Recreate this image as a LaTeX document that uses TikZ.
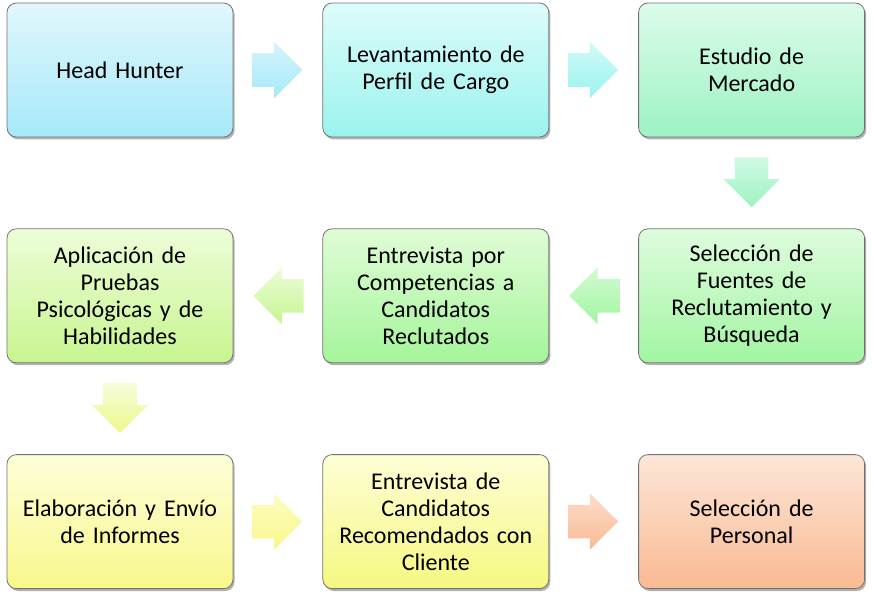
\documentclass[tikz,border=0pt]{standalone}
\usepackage{fontspec}
\setmainfont{Carlito}
\usetikzlibrary{positioning,shapes.arrows,shadows}

\definecolor{hhT}{HTML}{E2F7FD}\definecolor{hhB}{HTML}{A5E9F9}
\definecolor{levT}{HTML}{DDFCFB}\definecolor{levB}{HTML}{9BF3EE}
\definecolor{estT}{HTML}{DCFCEA}\definecolor{estB}{HTML}{9DF2C3}
\definecolor{selT}{HTML}{DEFCDD}\definecolor{selB}{HTML}{A2F5A2}
\definecolor{entT}{HTML}{E0FCD6}\definecolor{entB}{HTML}{A4F59A}
\definecolor{aplT}{HTML}{EDFDD8}\definecolor{aplB}{HTML}{C8F590}
\definecolor{elaT}{HTML}{FEFED8}\definecolor{elaB}{HTML}{F8F88C}
\definecolor{canT}{HTML}{FEFED6}\definecolor{canB}{HTML}{F5F880}
\definecolor{perT}{HTML}{FDE6D8}\definecolor{perB}{HTML}{F9BA92}

\begin{document}
\begin{tikzpicture}[
	main/.style={rectangle, rounded corners=7pt, text centered, text width=160pt, minimum width=169.5pt, minimum height=100.5pt, draw=black!55, line width=0.6pt, font=\fontsize{18}{20.25}\selectfont, drop shadow={shadow xshift=1.2pt, shadow yshift=-1.8pt, opacity=0.3, fill=black}},
	flecha/.style={single arrow, draw=none, minimum height=37.5pt, single arrow head extend=8.6pt},
	der/.style={flecha, inner xsep=0pt, inner ysep=12.4pt, xshift=-6.75pt},
	izq/.style={flecha, inner xsep=0pt, inner ysep=12.4pt, shape border rotate=180, xshift=6.75pt},
	abajo/.style={flecha, inner xsep=12.4pt, inner ysep=0pt, shape border rotate=270, yshift=6.75pt},
	node distance=68.25pt and 66.75pt
	]

	\useasboundingbox (0,0) rectangle (654.75pt,-447pt);

		\node (head) [main, top color=hhT, bottom color=hhB] at (90pt,-52.5pt) {Head Hunter};
		\node (perfil) [main, top color=levT, bottom color=levB, right=of head] {Levantamiento de\\Perfil de Cargo};
		\node (mercado) [main, top color=estT, bottom color=estB, right=of perfil] {Estudio de\\Mercado};
			\node (fuentes) [main, top color=selT, bottom color=selB, below=of mercado] {Selección de\\Fuentes de\\Reclutamiento y\\Búsqueda};
			\node (compet) [main, top color=entT, bottom color=entB, left=of fuentes] {Entrevista por\\Competencias a\\Candidatos\\Reclutados};
			\node (pruebas) [main, top color=aplT, bottom color=aplB, left=of compet] {Aplicación de\\Pruebas\\Psicológicas y de\\Habilidades};
				\node (informes) [main, top color=elaT, bottom color=elaB, below=of pruebas] {Elaboración y Envío\\de Informes};
				\node (cliente) [main, top color=canT, bottom color=canB, right=of informes] {Entrevista de\\Candidatos\\Recomendados con\\Cliente};
				\node (personal) [main, top color=perT, bottom color=perB, right=of cliente] {Selección de\\Personal};

	\path (head) -- node (f1) [der, top color=hhT!80!hhB, bottom color=hhB] {} (perfil);
	\path (perfil) -- node (f2) [der, top color=levT!80!levB, bottom color=levB] {} (mercado);
	\path (mercado) -- node (f3) [abajo, top color=estT!80!estB, bottom color=estB] {} (fuentes);
	\path (fuentes) -- node (f4) [izq, top color=selT!80!selB, bottom color=selB] {} (compet);
	\path (compet) -- node (f5) [izq, top color=aplT, bottom color=aplB!90!entB] {} (pruebas);
	\path (pruebas) -- node (f6) [abajo, top color=aplT!60!elaT, bottom color=elaB!85!aplB] {} (informes);
	\path (informes) -- node (f7) [der, top color=elaT!70!elaB, bottom color=elaB] {} (cliente);
	\path (cliente) -- node (f8) [der, top color=perT!80!perB, bottom color=perB] {} (personal);

\end{tikzpicture}
\end{document}
